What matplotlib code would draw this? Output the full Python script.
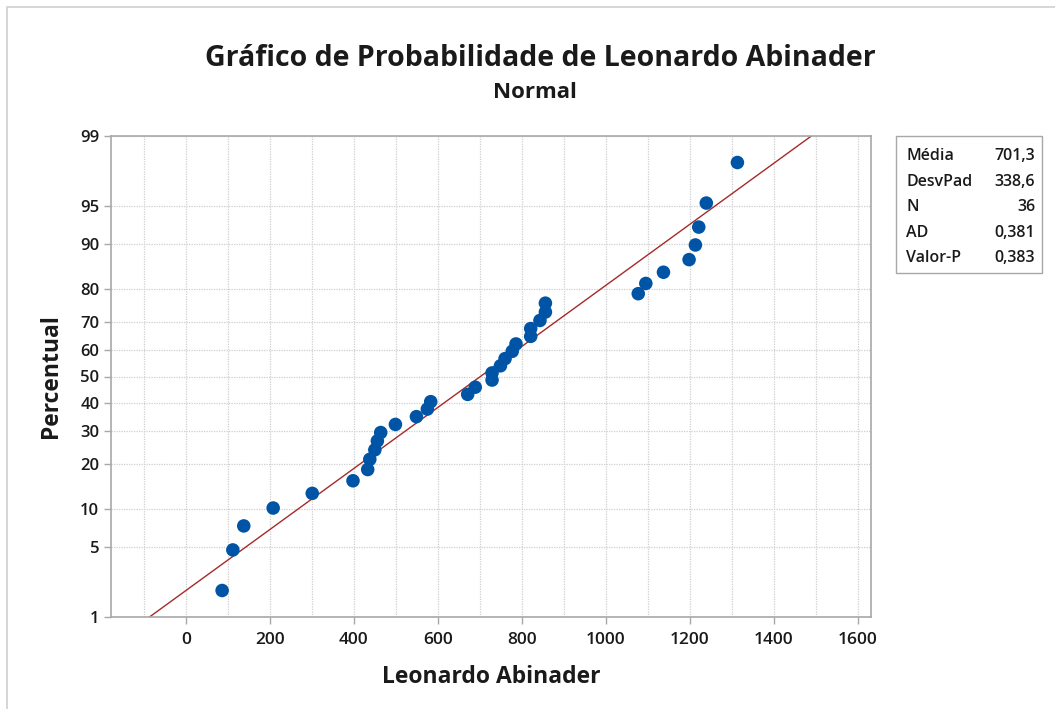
from statistics import NormalDist

import matplotlib
matplotlib.use("Agg")
import matplotlib.pyplot as plt
from matplotlib.patches import Rectangle

plt.rcParams["font.family"] = ["Open Sans", "Lato", "DejaVu Sans"]

# ordered sample values
valores = [
    86.5, 112, 138, 208, 301, 398, 433, 438, 450, 456, 464, 499,
    549, 575, 583, 671, 689, 729, 729, 749, 760, 777, 786, 821,
    821, 843, 856, 856, 1077, 1095, 1137, 1198, 1213, 1221, 1239, 1313,
]
media = 701.3
desvpad = 338.6
estatisticas = [
    ("Média", "701,3"),
    ("DesvPad", "338,6"),
    ("N", "36"),
    ("AD", "0,381"),
    ("Valor-P", "0,383"),
]
y_ticks_pct = [1, 5, 10, 20, 30, 40, 50, 60, 70, 80, 90, 95, 99]
x_ticks = [0, 200, 400, 600, 800, 1000, 1200, 1400, 1600]

nd = NormalDist()
n = len(valores)
# median ranks, as used by Minitab
ranks = [(i - 0.3) / (n + 0.4) for i in range(1, n + 1)]
z_pts = [nd.inv_cdf(p) for p in ranks]

fig = plt.figure(figsize=(10.55, 7.09), dpi=100)
W, H = 1055, 709
ax = fig.add_axes([111 / W, 1 - 617 / H, (871 - 111) / W, (617 - 136) / H])

grid_kw = dict(color="#cfcfcf", linestyle=(0, (1, 1)), linewidth=0.9, zorder=0)
for xv in range(-100, 1700, 100):
    ax.axvline(xv, **grid_kw)
for p in y_ticks_pct:
    ax.axhline(nd.inv_cdf(p / 100), **grid_kw)

# fitted normal line from the reported mean and std dev
z_lo, z_hi = nd.inv_cdf(0.01), nd.inv_cdf(0.99)
ax.plot([media + z_lo * desvpad, media + z_hi * desvpad], [z_lo, z_hi],
        color="#a52a2a", linewidth=1.0, zorder=2)

ax.scatter(valores, z_pts, s=95, color="#0054a6", edgecolors="none", zorder=3)

ax.set_xlim(-178, 1631)
ax.set_ylim(z_lo, z_hi)
ax.set_xticks(x_ticks)
ax.set_xticklabels([str(v) for v in x_ticks])
ax.set_yticks([nd.inv_cdf(p / 100) for p in y_ticks_pct])
ax.set_yticklabels([str(p) for p in y_ticks_pct])

for sp in ax.spines.values():
    sp.set_color("#a8a8a8")
    sp.set_linewidth(1.2)
ax.tick_params(axis="both", colors="#a8a8a8", length=5, width=1.0,
               labelcolor="#1a1a1a", labelsize=12)
ax.tick_params(axis="x", labelsize=12.5, pad=6)
for lbl in ax.get_xticklabels() + ax.get_yticklabels():
    lbl.set_fontweight("semibold")

ax.set_xlabel("Leonardo Abinader", fontsize=16.5, fontweight="bold",
              color="#1a1a1a", labelpad=12)
ax.set_ylabel("Percentual", fontsize=16.5, fontweight="bold",
              color="#1a1a1a", labelpad=12)

fig.text(540 / W, 1 - 58 / H, "Gráfico de Probabilidade de Leonardo Abinader",
         ha="center", va="center", fontsize=20.5, fontweight="bold", color="#1a1a1a")
fig.text(535 / W, 1 - 93 / H, "Normal", ha="center", va="center",
         fontsize=16, fontweight="bold", color="#1a1a1a")

# statistics box
bx0, by0, bx1, by1 = 896, 136, 1042, 273
fig.patches.append(Rectangle((bx0 / W, 1 - by1 / H), (bx1 - bx0) / W, (by1 - by0) / H,
                             transform=fig.transFigure, facecolor="white",
                             edgecolor="#a8a8a8", linewidth=1.0))
for k, (nome, val) in enumerate(estatisticas):
    yy = 1 - (156 + k * 25.5) / H
    fig.text(906 / W, yy, nome, ha="left", va="center", fontsize=11.5,
             fontweight="semibold", color="#1a1a1a")
    fig.text(1035 / W, yy, val, ha="right", va="center", fontsize=11.5,
             fontweight="semibold", color="#1a1a1a")

# outer frame
fig.patches.append(Rectangle((7 / W, -0.1), 1.2, 1 - 7 / H + 0.1,
                             transform=fig.transFigure, facecolor="none",
                             edgecolor="#d0d0d0", linewidth=1.2))

fig.savefig("out.png", dpi=100)
